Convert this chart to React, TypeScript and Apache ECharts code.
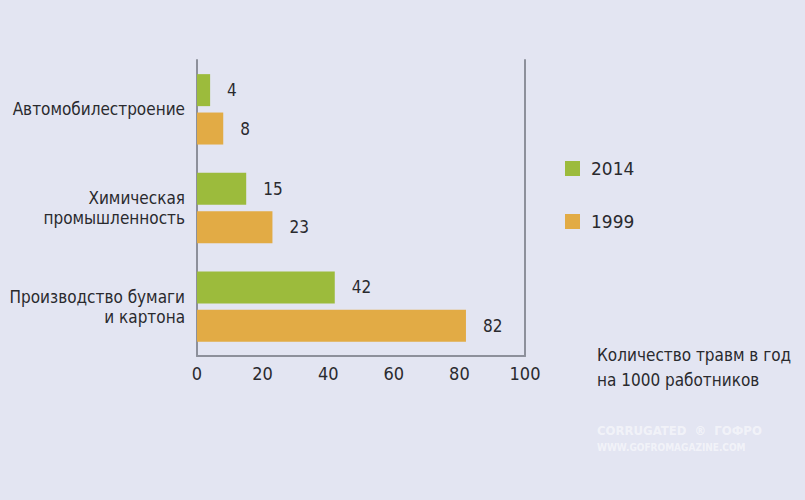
import React, { useEffect, useRef } from "react";
import * as echarts from "echarts";

const categories = [
  "Автомобилестроение",
  "Химическая\nпромышленность",
  "Производство бумаги\nи картона",
];
const series2014 = [4, 15, 42];
const series1999 = [8, 23, 82];
const seriesNames = ["2014", "1999"];
const xTicks = [0, 20, 40, 60, 80, 100];
const axisNote = "Количество травм в год\nна 1000 работников";

const FONT = "'Liberation Sans Narrow', 'DejaVu Sans Condensed', sans-serif";

export default function App() {
  const ref = useRef<HTMLDivElement>(null);
  useEffect(() => {
    if (!ref.current) return;
    const chart = echarts.init(ref.current, undefined, { renderer: "svg" });
    const label = {
      show: true,
      position: "right",
      distance: 17,
      color: "#2a2a2e",
      fontSize: 17,
      fontFamily: FONT,
    };
    chart.setOption({
      animation: false,
      backgroundColor: "#e3e5f2",
      grid: {
        left: 197,
        right: 280,
        top: 60,
        bottom: 144,
        containLabel: false,
        outerBoundsMode: "none",
      },
      legend: {
        data: seriesNames,
        orient: "vertical",
        left: 560,
        top: 155,
        itemWidth: 15,
        itemHeight: 15,
        itemGap: 36,
        icon: "rect",
        textStyle: { fontSize: 17, color: "#2a2a2e", fontFamily: "'DejaVu Sans', sans-serif", padding: [0, 0, 0, 6] },
      },
      xAxis: {
        type: "value",
        min: xTicks[0],
        max: xTicks[xTicks.length - 1],
        interval: 20,
        axisLine: { show: true, lineStyle: { color: "#8d909b", width: 2 } },
        axisTick: { show: false },
        splitLine: { show: false },
        axisLabel: { fontSize: 18, color: "#2a2a2e", fontFamily: FONT, margin: 8 },
      },
      yAxis: [
        {
          type: "category",
          data: categories,
          inverse: true,
          axisLine: { show: true, lineStyle: { color: "#8d909b", width: 2 } },
          axisTick: { show: false },
          axisLabel: { fontSize: 17, color: "#2a2a2e", fontFamily: FONT, margin: 12, lineHeight: 20, align: "right" },
        },
        {
          type: "category",
          data: categories,
          inverse: true,
          position: "right",
          axisLine: { show: true, onZero: false, lineStyle: { color: "#8d909b", width: 2 } },
          axisTick: { show: false },
          axisLabel: { show: false },
        },
      ],
      series: [
        {
          name: seriesNames[0],
          type: "bar",
          data: series2014,
          barWidth: 32,
          barGap: "20%",
          itemStyle: { color: "#9cbb3c" },
          label,
        },
        {
          name: seriesNames[1],
          type: "bar",
          data: series1999,
          barWidth: 32,
          itemStyle: { color: "#e2ab45" },
          label,
        },
      ],
      graphic: [
        {
          type: "text",
          left: 597,
          top: 342,
          style: { text: axisNote, fontSize: 17, lineHeight: 25, fill: "#2a2a2e", fontFamily: FONT },
        },
        {
          type: "text",
          left: 597,
          top: 424,
          style: {
            text: "CORRUGATED  ®  ГОФРО",
            fontSize: 13,
            fontWeight: "bold",
            fill: "rgba(255,255,255,0.55)",
            fontFamily: "'DejaVu Sans Condensed', sans-serif",
          },
        },
        {
          type: "text",
          left: 597,
          top: 442,
          style: {
            text: "WWW.GOFROMAGAZINE.COM",
            fontSize: 10,
            fontWeight: "bold",
            fill: "rgba(255,255,255,0.55)",
            fontFamily: "'DejaVu Sans Condensed', sans-serif",
          },
        },
      ],
    });
    return () => chart.dispose();
  }, []);
  return (
    <div
      ref={ref}
      style={{ position: "fixed", left: 0, top: 0, width: 805, height: 500 }}
    />
  );
}
